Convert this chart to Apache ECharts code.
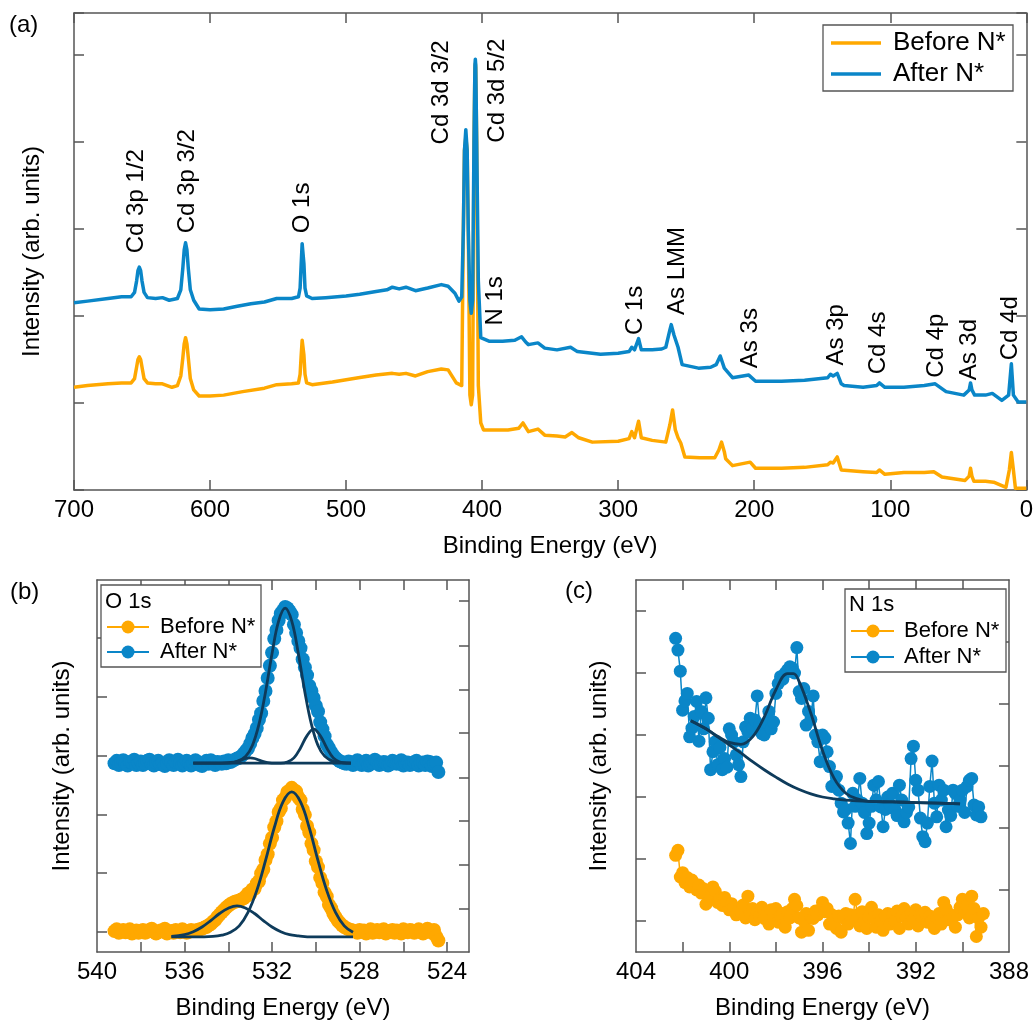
<!DOCTYPE html>
<html>
<head>
<meta charset="utf-8">
<title>XPS survey, O 1s and N 1s</title>
<script src="https://cdn.jsdelivr.net/npm/echarts@6/dist/echarts.min.js"></script>
<style>
html, body { margin: 0; padding: 0; background: #fff; }
#main { width: 1036px; height: 1023px; }
</style>
</head>
<body>
<div id="main"></div>
<script>
// ---------- (a) survey spectra ----------
var afterE = [700, 690, 675, 665, 658, 655.5, 654, 653, 652, 651, 650, 648.5, 646, 640, 635, 630, 624, 621.5, 620, 619, 618, 617, 616, 614.5, 612, 608, 600, 590, 580, 570, 560, 551, 540, 535, 533.8, 533, 532.3, 531.7, 531, 530.2, 529, 525, 515, 500, 490, 478, 470, 466, 461, 456, 449, 440, 430, 425, 420, 417, 415, 413.8, 413, 412, 411, 410.2, 409, 408, 407, 406, 405.3, 405, 404.7, 404, 402.8, 401, 395,
	385, 376, 371, 368, 366, 359, 354, 345, 335, 330, 313, 300, 292, 290, 288, 285, 283, 275, 268, 265, 262, 261, 259, 256, 253, 241, 232, 228, 225, 222, 216, 204, 199, 180, 163, 146, 144, 142, 139, 136, 134, 120, 110, 108, 104, 90, 75, 67, 59, 46, 42, 41, 40, 38, 30, 25, 18, 13, 11, 9.5, 6, 0];
var afterI = [2.15, 2.17, 2.20, 2.22, 2.22, 2.27, 2.40, 2.52, 2.56, 2.52, 2.40, 2.27, 2.21, 2.20, 2.21, 2.18, 2.20, 2.30, 2.55, 2.76, 2.84, 2.76, 2.55, 2.30, 2.18, 2.08, 2.07, 2.08, 2.11, 2.14, 2.16, 2.20, 2.20, 2.22, 2.32, 2.60, 2.83, 2.83, 2.60, 2.32, 2.23, 2.20, 2.21, 2.23, 2.25, 2.28, 2.30, 2.33, 2.31, 2.33, 2.29, 2.32, 2.36, 2.34, 2.26, 2.17, 2.22, 3.00, 3.90, 4.14, 3.90, 3.00, 2.18, 2.03, 2.18, 4.00, 4.88, 4.95, 4.88, 4.00, 2.40, 1.75, 1.71,
	1.71, 1.72, 1.76, 1.70, 1.67, 1.69, 1.63, 1.61, 1.64, 1.59, 1.56, 1.57, 1.59, 1.64, 1.61, 1.74, 1.61, 1.61, 1.62, 1.64, 1.84, 1.90, 1.78, 1.64, 1.44, 1.40, 1.41, 1.44, 1.54, 1.40, 1.29, 1.32, 1.25, 1.25, 1.26, 1.29, 1.33, 1.31, 1.34, 1.22, 1.20, 1.18, 1.20, 1.23, 1.18, 1.18, 1.20, 1.22, 1.13, 1.09, 1.15, 1.23, 1.15, 1.09, 1.09, 1.11, 1.03, 1.09, 1.45, 1.09, 1.01, 1.01];

var beforeE = [700, 690, 675, 665, 658, 655.5, 654, 653, 652, 651, 650, 648.5, 646, 640, 635, 628, 624, 621.5, 620, 619, 618, 617, 616, 614.5, 612, 608, 600, 590, 576, 560, 551, 540, 535, 533.8, 533, 532.3, 531.7, 531, 530.2, 529, 525, 510, 491, 478, 466, 461, 456, 449, 440, 430, 425, 419, 415, 413.8, 413, 412, 411, 410.2, 409, 408, 407, 406, 405.3, 405, 404.7, 404, 402.8, 401, 399,
	390, 381, 373, 370, 366, 359, 354, 345, 339, 334, 329, 319, 300, 292, 290, 288, 285, 283, 275, 265, 262, 260, 258, 256, 254, 251, 240, 229, 226, 224, 222, 221, 216, 203, 199, 180, 163, 146, 144, 142, 139, 136, 120, 110, 108, 104, 90, 75, 68, 62, 45, 42, 41, 40, 38.5, 30, 24, 15, 12.5, 11, 9.5, 8, 0];
var beforeI = [1.18, 1.20, 1.22, 1.23, 1.23, 1.28, 1.41, 1.50, 1.53, 1.50, 1.41, 1.28, 1.23, 1.22, 1.22, 1.18, 1.20, 1.31, 1.52, 1.68, 1.75, 1.68, 1.52, 1.28, 1.15, 1.08, 1.08, 1.09, 1.13, 1.17, 1.21, 1.22, 1.23, 1.33, 1.55, 1.72, 1.72, 1.55, 1.33, 1.23, 1.21, 1.24, 1.29, 1.32, 1.34, 1.33, 1.34, 1.31, 1.36, 1.39, 1.38, 1.23, 1.20, 3.00, 3.90, 4.05, 3.90, 3.00, 1.09, 0.98, 1.09, 4.00, 4.85, 4.90, 4.85, 4.00, 1.20, 0.77, 0.69,
	0.69, 0.69, 0.71, 0.77, 0.67, 0.70, 0.63, 0.62, 0.61, 0.66, 0.60, 0.55, 0.56, 0.59, 0.67, 0.60, 0.79, 0.60, 0.57, 0.55, 0.75, 0.92, 0.69, 0.60, 0.54, 0.38, 0.37, 0.37, 0.46, 0.55, 0.44, 0.36, 0.28, 0.32, 0.25, 0.25, 0.26, 0.29, 0.32, 0.31, 0.38, 0.23, 0.21, 0.20, 0.23, 0.18, 0.20, 0.20, 0.21, 0.15, 0.11, 0.16, 0.25, 0.16, 0.10, 0.10, 0.09, 0.03, 0.23, 0.43, 0.23, 0.02, 0.02];

var peakNames = ['Cd 3p 1/2', 'Cd 3p 3/2', 'O 1s', 'Cd 3d 3/2', 'Cd 3d 5/2', 'N 1s', 'C 1s', 'As LMM', 'As 3s', 'As 3p', 'Cd 4s', 'Cd 4p', 'As 3d', 'Cd 4d'];
var peakE = [653.9, 616.5, 532.3, 429.8, 388.8, 390.3, 287.0, 256.3, 202.8, 139.9, 108.4, 65.9, 41.7, 11.7];
var peakBase = [2.72, 2.95, 2.95, 3.97, 3.99, 1.89, 1.78, 2.01, 1.40, 1.43, 1.33, 1.29, 1.26, 1.49];

// ---------- (b) O 1s, 0.1 eV steps from 539.2 eV ----------
var o1sStart = 539.2, o1sStep = 0.1;
var o1sBefore = [
	0.01, 0.04, -0.02, 0.00, 0.03, -0.01, 0.00, 0.04, -0.03, 0.01,
	0.02, -0.02, 0.01, 0.03, -0.02, 0.00, 0.03, 0.05, 0.00, -0.03,
	-0.01, 0.02, 0.02, 0.05, -0.03, 0.00, 0.01, -0.02, 0.03, 0.01,
	-0.01, 0.04, 0.02, -0.02, 0.00, 0.03, 0.01, 0.02, 0.03, 0.04,
	0.05, 0.07, 0.08, 0.11, 0.13, 0.17, 0.20, 0.25, 0.29, 0.33,
	0.37, 0.41, 0.44, 0.47, 0.49, 0.51, 0.52, 0.53, 0.55, 0.57,
	0.60, 0.65, 0.64, 0.72, 0.73, 0.82, 0.86, 0.99, 1.06, 1.22,
	1.32, 1.50, 1.60, 1.78, 1.88, 2.04, 2.10, 2.24, 2.28, 2.38,
	2.40, 2.45, 2.41, 2.39, 2.29, 2.24, 2.08, 1.99, 1.80, 1.69,
	1.50, 1.39, 1.20, 1.10, 0.92, 0.83, 0.67, 0.60, 0.46, 0.40,
	0.31, 0.25, 0.19, 0.15, 0.11, 0.08, 0.06, 0.04, 0.03, 0.02,
	0.01, -0.02, 0.03, 0.00, 0.02, -0.03, 0.01, 0.04, -0.02, 0.00,
	0.03, -0.01, 0.02, 0.04, -0.03, 0.01, 0.00, 0.03, -0.02, 0.02,
	0.00, -0.03, 0.04, 0.01, -0.01, 0.03, 0.02, -0.02, 0.01, 0.04,
	0.00, -0.03, 0.02, 0.05, 0.01, -0.02, 0.03, -0.08, -0.15];
var o1sAfter = [
	2.87, 2.91, 2.84, 2.88, 2.92, 2.86, 2.83, 2.89, 2.88, 2.93,
	2.84, 2.87, 2.90, 2.84, 2.87, 2.91, 2.93, 2.86, 2.83, 2.88,
	2.91, 2.85, 2.87, 2.82, 2.86, 2.92, 2.88, 2.84, 2.89, 2.93,
	2.87, 2.83, 2.86, 2.91, 2.88, 2.83, 2.87, 2.92, 2.88, 2.84,
	2.82, 2.88, 2.91, 2.86, 2.92, 2.87, 2.84, 2.89, 2.88, 2.86,
	2.90, 2.87, 2.92, 2.89, 2.91, 2.93, 2.95, 2.96, 2.99, 3.03,
	3.08, 3.12, 3.20, 3.30, 3.37, 3.47, 3.61, 3.72, 3.93, 4.10,
	4.32, 4.53, 4.75, 4.99, 5.14, 5.30, 5.42, 5.47, 5.53, 5.51,
	5.46, 5.40, 5.23, 5.09, 4.95, 4.83, 4.64, 4.50, 4.37, 4.19,
	4.10, 3.98, 3.85, 3.75, 3.57, 3.45, 3.33, 3.19, 3.13, 3.06,
	3.00, 2.96, 2.93, 2.90, 2.89, 2.87, 2.86, 2.90, 2.88, 2.84,
	2.86, 2.92, 2.89, 2.84, 2.87, 2.91, 2.83, 2.86, 2.88, 2.93,
	2.90, 2.84, 2.86, 2.89, 2.88, 2.83, 2.85, 2.91, 2.89, 2.86,
	2.87, 2.92, 2.83, 2.86, 2.88, 2.84, 2.86, 2.89, 2.91, 2.83,
	2.87, 2.88, 2.84, 2.90, 2.89, 2.82, 2.86, 2.88, 2.72];

var fitBMainE = [536.6, 535.5, 534.7, 534.3, 533.9, 533.5, 533.1, 532.7, 532.3, 531.9, 531.5, 531.1, 530.7, 530.3, 529.9, 529.5, 529.1, 528.7, 528.3];
var fitBMain = [-0.09, -0.09, -0.08, -0.06, -0.01, 0.10, 0.33, 0.70, 1.21, 1.77, 2.21, 2.38, 2.21, 1.77, 1.21, 0.70, 0.33, 0.10, -0.01];
var fitBShE = [536.6, 536.0, 535.6, 535.2, 534.8, 534.4, 534.0, 533.6, 533.2, 532.8, 532.4, 532.0, 531.6, 531.2, 530.8, 530.2, 529.4, 528.3];
var fitBSh = [-0.08, -0.05, 0.00, 0.08, 0.19, 0.31, 0.40, 0.44, 0.40, 0.31, 0.19, 0.08, 0.00, -0.05, -0.07, -0.09, -0.09, -0.09];
var fitAMainE = [535.6, 534.6, 534.0, 533.6, 533.2, 532.9, 532.6, 532.3, 532.0, 531.7, 531.4, 531.1, 530.8, 530.5, 530.2, 529.9, 529.6, 529.2, 528.8, 528.4];
var fitAMain = [2.87, 2.87, 2.88, 2.90, 2.99, 3.17, 3.53, 4.08, 4.74, 5.29, 5.51, 5.29, 4.74, 4.08, 3.53, 3.17, 2.99, 2.90, 2.88, 2.87];
var fitALowE = [535.6, 532.0, 531.6, 531.3, 531.0, 530.7, 530.4, 530.1, 529.8, 529.5, 529.2, 528.9, 528.6, 528.4];
var fitALow = [2.87, 2.87, 2.87, 2.89, 2.96, 3.13, 3.34, 3.45, 3.34, 3.13, 2.96, 2.89, 2.87, 2.87];
var fitAHighE = [535.6, 534.2, 533.8, 533.5, 533.2, 533.0, 532.8, 532.5, 532.2, 531.8, 528.4];
var fitAHigh = [2.87, 2.87, 2.88, 2.91, 2.95, 2.96, 2.95, 2.91, 2.88, 2.87, 2.87];

// ---------- (c) N 1s, 0.1 eV steps from 402.3 eV ----------
var n1sStart = 402.3, n1sStep = 0.1;
var n1sAfter = [4.56, 4.37, 4.03, 3.40, 3.55, 3.67, 2.97, 3.11, 3.30, 3.54, 2.90, 3.38, 3.10, 3.60, 3.27, 2.44, 2.73, 2.89, 2.52, 2.80, 2.44, 2.62, 2.48, 3.10, 3.00, 2.89, 2.68, 2.52, 2.33, 2.89, 3.13, 3.05, 3.27, 3.11, 3.24, 3.63, 3.16, 3.02, 3.00, 3.20, 3.38, 3.10, 3.21, 3.67, 3.83, 3.94, 3.90, 4.00, 4.05, 4.10, 4.08, 4.00, 4.41, 3.70, 3.59, 3.75, 3.16, 3.38, 3.25, 3.63, 3.00, 2.89, 2.57, 3.00, 2.95, 2.73, 2.49, 2.17, 2.19, 2.33, 2.11, 1.90, 1.76, 1.80, 1.58, 1.25, 2.06, 1.85, 1.95, 2.30, 1.90, 1.75, 1.41, 1.58, 1.85, 2.19, 1.95, 2.25, 1.84, 1.52, 1.80, 2.00, 1.88, 2.06, 1.80, 1.70, 2.19, 1.95, 1.60, 1.75, 1.84, 2.62, 2.82, 2.27, 2.11, 1.66, 1.36, 1.28, 1.58, 2.17, 2.58, 1.90, 1.68, 2.19, 1.95, 2.11, 1.52, 1.79, 1.70, 2.11, 2.06, 1.85, 1.95, 2.11, 1.75, 2.17, 2.27, 2.30, 1.87, 1.71, 1.84, 1.68];
var n1sBefore = [1.06, 1.14, 0.71, 0.78, 0.62, 0.70, 0.55, 0.66, 0.60, 0.50, 0.58, 0.45, 0.52, 0.27, 0.44, 0.40, 0.55, 0.48, 0.30, 0.36, 0.25, 0.38, 0.30, 0.18, 0.28, 0.22, 0.10, 0.20, 0.15, 0.26, 0.05, 0.40, 0.12, 0.20, 0.02, 0.15, 0.08, 0.22, 0.04, 0.12, -0.05, 0.18, 0.05, 0.20, -0.02, 0.08, 0.12, -0.10, 0.15, 0.05, 0.20, 0.35, 0.25, 0.05, -0.18, 0.00, 0.12, -0.15, 0.08, 0.04, 0.16, 0.10, 0.18, 0.30, 0.15, 0.20, -0.05, 0.10, 0.02, -0.12, 0.08, -0.18, 0.05, 0.12, -0.05, 0.10, 0.02, 0.35, 0.10, -0.08, 0.15, 0.00, -0.12, 0.06, 0.22, 0.05, -0.10, 0.10, 0.00, -0.15, 0.08, 0.12, -0.05, 0.10, 0.00, 0.16, -0.12, 0.08, 0.20, 0.05, -0.05, 0.12, 0.02, 0.18, -0.08, 0.10, 0.05, 0.14, -0.02, 0.08, 0.00, -0.12, 0.06, 0.12, -0.05, 0.30, 0.20, 0.02, 0.10, 0.06, -0.10, 0.10, 0.22, 0.35, 0.15, 0.25, 0.05, 0.40, 0.20, -0.25, 0.05, -0.10, 0.12];

var n1sBgE = [401.65, 401.0, 400.5, 400.0, 399.5, 399.0, 398.5, 398.0, 397.5, 397.0, 396.5, 396.0, 395.5, 395.0, 394.0, 393.0, 392.0, 391.0, 390.1];
var n1sBg = [3.23, 3.10, 2.97, 2.84, 2.71, 2.57, 2.44, 2.32, 2.21, 2.12, 2.05, 2.00, 1.97, 1.95, 1.93, 1.92, 1.91, 1.90, 1.89];
var n1sPeakE = [401.65, 401.0, 400.5, 400.0, 399.5, 399.0, 398.5, 398.0, 397.5, 397.25, 397.0, 396.5, 396.0, 395.5, 395.0, 394.5, 394.0, 393.0, 392.0, 391.0, 390.1];
var n1sPeak = [3.23, 3.10, 2.98, 2.88, 2.85, 2.97, 3.29, 3.73, 3.99, 3.99, 3.86, 3.35, 2.75, 2.30, 2.06, 1.97, 1.93, 1.92, 1.91, 1.90, 1.89];

var orange = '#ffa800', blue = '#0a86c8', navy = '#0e3b5b', frame = '#555';
var font = 'Liberation Sans, Arial, sans-serif';

function zip(xs, ys) {
	return xs.map(function (x, i) { return [x, ys[i]]; });
}
function stepped(start, step, ys) {
	return ys.map(function (y, i) { return [+(start - step * i).toFixed(2), y]; });
}

var lineCfg = { show: true, onZero: false, lineStyle: { color: frame, width: 1.5 } };
var tickCfg = { show: true, inside: true, length: 10, lineStyle: { color: frame, width: 1.5 } };
var nameCfg = { fontSize: 24, color: '#000', fontFamily: font };

function xAxes(g, min, max, extra, labelVals, tickVals) {
	var tick = Object.assign({}, tickCfg);
	var label = { fontSize: 24, color: '#000', fontFamily: font, margin: 8 };
	if (tickVals) tick.customValues = tickVals;
	if (labelVals) label.customValues = labelVals;
	var base = Object.assign({ type: 'value', gridIndex: g, min: min, max: max, inverse: true,
		axisLine: lineCfg, axisTick: tick, splitLine: { show: false } }, extra);
	return [
		Object.assign({}, base, { position: 'bottom', axisLabel: label, name: 'Binding Energy (eV)',
			nameLocation: 'middle', nameGap: 44, nameTextStyle: nameCfg }),
		Object.assign({}, base, { position: 'top', axisLabel: { show: false } })
	];
}
function yAxes(g, min, max, extra, leftTicks, rightTicks, gap) {
	var lt = Object.assign({}, tickCfg), rt = Object.assign({}, tickCfg);
	if (leftTicks) lt.customValues = leftTicks;
	if (rightTicks) rt.customValues = rightTicks;
	var base = Object.assign({ type: 'value', gridIndex: g, min: min, max: max,
		axisLine: lineCfg, axisLabel: { show: false }, splitLine: { show: false } }, extra);
	return [
		Object.assign({}, base, { position: 'left', axisTick: lt, name: 'Intensity (arb. units)',
			nameLocation: 'middle', nameGap: gap, nameTextStyle: nameCfg }),
		Object.assign({}, base, { position: 'right', axisTick: rt })
	];
}

function spectrum(name, data, color, xi) {
	return { name: name, type: 'line', data: data, xAxisIndex: xi, yAxisIndex: xi, symbol: 'none',
		lineStyle: { color: color, width: 3.5, join: 'round' }, itemStyle: { color: color } };
}
function dotted(name, data, color, xi, size) {
	return { name: name, type: 'line', data: data, xAxisIndex: xi, yAxisIndex: xi, symbol: 'circle',
		symbolSize: size, lineStyle: { color: color, width: 1.5 }, itemStyle: { color: color } };
}
function fit(data, xi) {
	return { type: 'line', data: data, xAxisIndex: xi, yAxisIndex: xi, symbol: 'none', smooth: 0.4,
		lineStyle: { color: navy, width: 2.8 }, z: 5 };
}

var chart = echarts.init(document.getElementById('main'));

var option = {
	animation: false,
	backgroundColor: '#fff',
	textStyle: { fontFamily: font },
	grid: [
		{ left: 74, top: 13, width: 956, height: 477 },
		{ left: 97, top: 580, width: 372, height: 372 },
		{ left: 636, top: 580, width: 373, height: 372 }
	],
	xAxis: [].concat(
		xAxes(0, 0, 700, { interval: 100 }),
		xAxes(1, 523, 540, {}, [540, 536, 532, 528, 524], [538, 536, 534, 532, 530, 528, 526, 524]),
		xAxes(2, 388, 404, {}, [404, 400, 396, 392, 388], [402, 400, 398, 396, 394, 392, 390])
	),
	yAxis: [].concat(
		yAxes(0, 0, 5.48, { interval: 1 }, null, null, 30),
		yAxes(1, -0.346, 5.99, {}, [0, 1, 2, 3, 4, 5], [0.39, 1.14, 1.89, 2.63, 3.38, 4.12, 4.87, 5.63], 23),
		yAxes(2, -0.5, 5.5, {}, [0, 1, 2, 3, 4, 5], [0.5, 1.5, 2.5, 3.5, 4.5], 25)
	),
	series: [
		spectrum('Before N*', zip(beforeE, beforeI), orange, 0),
		spectrum('After N*', zip(afterE, afterI), blue, 0),

		dotted('Before N*', stepped(o1sStart, o1sStep, o1sBefore), orange, 2, 14),
		dotted('After N*', stepped(o1sStart, o1sStep, o1sAfter), blue, 2, 14),
		fit(zip(fitBMainE, fitBMain), 2),
		fit(zip(fitBShE, fitBSh), 2),
		fit(zip(fitAMainE, fitAMain), 2),
		fit(zip(fitALowE, fitALow), 2),
		fit(zip(fitAHighE, fitAHigh), 2),

		dotted('Before N*', stepped(n1sStart, n1sStep, n1sBefore), orange, 4, 13),
		dotted('After N*', stepped(n1sStart, n1sStep, n1sAfter), blue, 4, 13),
		fit(zip(n1sBgE, n1sBg), 4),
		fit(zip(n1sPeakE, n1sPeak), 4)
	]
};
chart.setOption(option);

// ---------- annotations and legend boxes ----------
function txt(x, y, s, size, extra) {
	return Object.assign({ type: 'text', x: x, y: y, z: 100,
		style: { text: s, font: size + 'px ' + font, fill: '#000', align: 'left', verticalAlign: 'middle' } }, extra || {});
}
function box(x, y, w, h) {
	return { type: 'rect', z: 99, shape: { x: x, y: y, width: w, height: h },
		style: { fill: '#fff', stroke: frame, lineWidth: 1.3 } };
}
function seg(x1, x2, y, color, w) {
	return { type: 'line', z: 100, shape: { x1: x1, y1: y, x2: x2, y2: y }, style: { stroke: color, lineWidth: w } };
}
function dot(cx, cy, color) {
	return { type: 'circle', z: 101, shape: { cx: cx, cy: cy, r: 6.5 }, style: { fill: color } };
}

var g = [
	txt(9, 25, '(a)', 24),
	txt(10, 592, '(b)', 24),
	txt(565, 591, '(c)', 24),

	box(823, 25, 190, 66),
	seg(831, 881, 43, orange, 3.5), txt(893, 43, 'Before N*', 26),
	seg(831, 881, 74, blue, 3.5), txt(893, 74, 'After N*', 26),

	box(101, 585, 160, 82),
	txt(105, 602, 'O 1s', 22),
	seg(107, 149, 627, orange, 2), dot(128, 627, orange), txt(160, 627, 'Before N*', 22),
	seg(107, 149, 652, blue, 2), dot(128, 652, blue), txt(160, 652, 'After N*', 22),

	box(845, 589, 161, 83),
	txt(849, 605, 'N 1s', 22),
	seg(851, 894, 631, orange, 2), dot(873, 631, orange), txt(904, 631, 'Before N*', 22),
	seg(851, 894, 657, blue, 2), dot(873, 657, blue), txt(904, 657, 'After N*', 22)
];

peakNames.forEach(function (name, i) {
	var p = chart.convertToPixel({ xAxisIndex: 0, yAxisIndex: 0 }, [peakE[i], peakBase[i]]);
	g.push(txt(p[0], p[1], name, 24, { rotation: Math.PI / 2 }));
});

chart.setOption({ graphic: g });
</script>
</body>
</html>
